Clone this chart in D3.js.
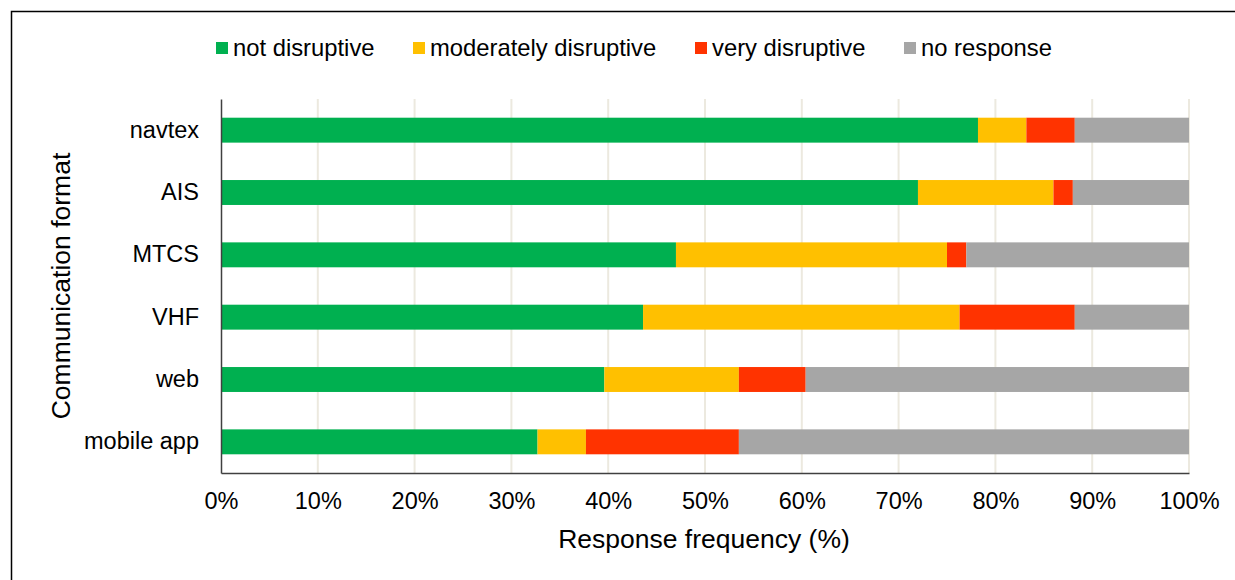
<!DOCTYPE html>
<html>
<head>
<meta charset="utf-8">
<script src="https://cdn.jsdelivr.net/npm/d3@7"></script>
<style>
  html, body { margin: 0; padding: 0; background: #fff; }
  svg { display: block; font-family: "Liberation Sans", Arial, sans-serif; }
</style>
</head>
<body>
<svg id="chart" width="1235" height="580"></svg>
<script>
// Communication formats (top to bottom)
const formats = ["navtex", "AIS", "MTCS", "VHF", "web", "mobile app"];

// Response shares (%) per format
const notDisruptive        = [78.2, 72.0, 47.0, 43.6, 39.6, 32.7];
const moderatelyDisruptive = [ 5.0, 14.0, 28.0, 32.7, 13.9,  5.0];
const veryDisruptive       = [ 5.0,  2.0,  2.0, 11.9,  6.9, 15.8];
const noResponse           = [11.8, 12.0, 23.0, 11.8, 39.6, 46.5];

const seriesNames = ["not disruptive", "moderately disruptive", "very disruptive", "no response"];
const seriesColors = ["#00B050", "#FFC000", "#FF3300", "#A6A6A6"];

const tickValues = [0, 10, 20, 30, 40, 50, 60, 70, 80, 90, 100];
const xTitle = "Response frequency (%)";
const yTitle = "Communication format";

// table for the stack layout
const keys = ["nd", "md", "vd", "nr"];
const rows = formats.map((f, i) => ({
  format: f,
  nd: notDisruptive[i],
  md: moderatelyDisruptive[i],
  vd: veryDisruptive[i],
  nr: noResponse[i]
}));

const svg = d3.select("#chart");

// outer frame
svg.append("rect")
  .attr("x", 11.5).attr("y", 11.5)
  .attr("width", 1300).attr("height", 700)
  .attr("fill", "none").attr("stroke", "#000").attr("stroke-width", 1.5);

const plot = { left: 221, right: 1189, top: 99, bottom: 473 };

const x = d3.scaleLinear().domain([0, 100]).range([plot.left, plot.right]);
const y = d3.scaleBand().domain(formats).range([plot.top, plot.bottom])
  .paddingInner(0.6).paddingOuter(0.3);

// vertical gridlines
svg.append("g")
  .selectAll("line")
  .data(tickValues.filter(t => t > 0))
  .join("line")
  .attr("x1", d => x(d)).attr("x2", d => x(d))
  .attr("y1", plot.top).attr("y2", plot.bottom)
  .attr("stroke", "#ECE9DF").attr("stroke-width", 2);

// stacked bars
const stacked = d3.stack().keys(keys)(rows);
svg.append("g")
  .selectAll("g")
  .data(stacked)
  .join("g")
  .attr("fill", (d, i) => seriesColors[i])
  .selectAll("rect")
  .data(d => d)
  .join("rect")
  .attr("x", d => x(d[0]))
  .attr("width", d => x(d[1]) - x(d[0]))
  .attr("y", d => y(d.data.format))
  .attr("height", y.bandwidth());

// x axis
const xAxis = svg.append("g")
  .attr("transform", `translate(0,${plot.bottom})`)
  .call(d3.axisBottom(x).tickValues(tickValues).tickFormat(d => d + "%").tickSize(0).tickPadding(19));
xAxis.select(".domain").attr("stroke", "#404040").attr("stroke-width", 1.5);
xAxis.selectAll("text")
  .attr("font-size", 23.5).attr("fill", "#000")
  .attr("font-family", "'Liberation Sans', Arial, sans-serif");

// y axis
const yAxis = svg.append("g")
  .attr("transform", `translate(${plot.left},0)`)
  .call(d3.axisLeft(y).tickSize(0).tickPadding(22));
yAxis.select(".domain").attr("stroke", "#404040").attr("stroke-width", 1.5);
yAxis.selectAll("text")
  .attr("font-size", 23.5).attr("fill", "#000")
  .attr("font-family", "'Liberation Sans', Arial, sans-serif");

// axis titles
svg.append("text")
  .attr("x", (plot.left + plot.right) / 2 - 1)
  .attr("y", 548)
  .attr("text-anchor", "middle")
  .attr("font-size", 26.5)
  .text(xTitle);

svg.append("text")
  .attr("transform", `translate(70,${(plot.top + plot.bottom) / 2}) rotate(-90)`)
  .attr("text-anchor", "middle")
  .attr("font-size", 26.5)
  .text(yTitle);

// legend: swatch left edges along the top row
const legendX = [216, 413, 695, 904];
const legend = svg.append("g");
seriesNames.forEach((name, i) => {
  legend.append("rect")
    .attr("x", legendX[i]).attr("y", 42)
    .attr("width", 12).attr("height", 12)
    .attr("fill", seriesColors[i]);
  legend.append("text")
    .attr("x", legendX[i] + 17).attr("y", 56)
    .attr("font-size", 23.8)
    .text(name);
});
</script>
</body>
</html>
